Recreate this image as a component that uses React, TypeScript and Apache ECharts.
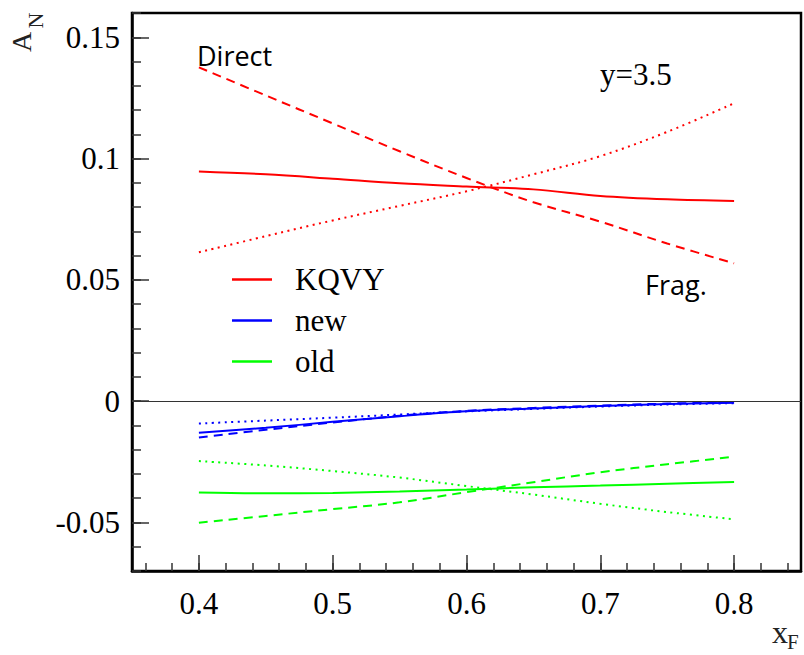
import React, { useEffect, useRef } from "react";
import * as echarts from "echarts";

const X_F = [0.4, 0.45, 0.5, 0.55, 0.6, 0.65, 0.7, 0.75, 0.8];

const KQVY_TOTAL = [0.0947, 0.0935, 0.0917, 0.0898, 0.0885, 0.0873, 0.0846, 0.0832, 0.0825];
const KQVY_DIRECT = [0.1376, 0.126, 0.1145, 0.103, 0.092, 0.082, 0.074, 0.065, 0.0568];
const KQVY_FRAG = [0.0614, 0.068, 0.0745, 0.0805, 0.0865, 0.0935, 0.101, 0.111, 0.1228];

const NEW_TOTAL = [-0.013, -0.011, -0.0085, -0.0062, -0.0042, -0.003, -0.002, -0.0012, -0.0006];
const NEW_DIRECT = [-0.015, -0.0118, -0.0088, -0.006, -0.004, -0.0028, -0.0018, -0.001, -0.0004];
const NEW_FRAG = [-0.0092, -0.008, -0.0068, -0.0055, -0.0042, -0.0032, -0.0022, -0.0014, -0.0008];

const OLD_TOTAL = [-0.0376, -0.038, -0.0378, -0.0372, -0.0364, -0.0355, -0.0348, -0.034, -0.0333];
const OLD_DIRECT = [-0.0501, -0.0473, -0.0445, -0.0417, -0.0375, -0.0334, -0.0293, -0.026, -0.0229];
const OLD_FRAG = [-0.0247, -0.0265, -0.0288, -0.0315, -0.035, -0.0385, -0.0423, -0.0457, -0.0487];

const X_MAJOR = [0.4, 0.5, 0.6, 0.7, 0.8];
const X_MINOR = [0.36, 0.38, 0.4, 0.42, 0.44, 0.46, 0.48, 0.5, 0.52, 0.54, 0.56, 0.58, 0.6, 0.62, 0.64, 0.66, 0.68, 0.7, 0.72, 0.74, 0.76, 0.78, 0.8, 0.82, 0.84];
const Y_MAJOR = [-0.05, 0, 0.05, 0.1, 0.15];
const Y_MINOR = [-0.07, -0.06, -0.05, -0.04, -0.03, -0.02, -0.01, 0, 0.01, 0.02, 0.03, 0.04, 0.05, 0.06, 0.07, 0.08, 0.09, 0.1, 0.11, 0.12, 0.13, 0.14, 0.15, 0.16];

const LEGEND_NAMES = ["KQVY", "new", "old"];

const SERIF = "Liberation Serif";
const SANS = "Open Sans";

function pts(arr: number[]) {
  return X_F.map((x, i) => [x, arr[i]]);
}

function line(name: string, data: number[], color: string, type: any) {
  return {
    name,
    type: "line",
    data: pts(data),
    smooth: 0.35,
    showSymbol: false,
    symbol: "none",
    color,
    lineStyle: { color, width: 2, type },
    silent: true,
    z: 3,
  };
}

function txt(text: string, x: number, y: number, size: number, family: string, align: string, rotation = 0, fill = "#000") {
  return {
    type: "text",
    x,
    y,
    rotation,
    style: {
      text,
      fontSize: size,
      fontFamily: family,
      fill,
      align,
      verticalAlign: "middle",
      textAlign: align,
      textVerticalAlign: "middle",
    },
  };
}

export default function App() {
  const ref = useRef<HTMLDivElement>(null);
  useEffect(() => {
    const chart = echarts.init(ref.current!, null, { renderer: "svg" });
    const DASH = [9, 6];
    const DOT = [2, 4.5];
    const tickStyle = { color: "#333", width: 1.5 };
    const option: any = {
      animation: false,
      backgroundColor: "#fff",
      textStyle: { fontFamily: SERIF },
      grid: {
        left: 132,
        top: 13,
        right: 3,
        bottom: 84,
        show: true,
        borderColor: "#000",
        borderWidth: 2.5,
        backgroundColor: "transparent",
      },
      xAxis: [
        {
          type: "value",
          min: 0.35,
          max: 0.85,
          position: "bottom",
          axisLine: { show: true, onZero: false, lineStyle: { color: "#000", width: 2.5 } },
          axisTick: { show: true, inside: true, length: 16, customValues: X_MAJOR, lineStyle: tickStyle },
          axisLabel: { customValues: X_MAJOR, margin: 17, fontFamily: SERIF, fontSize: 31, color: "#000" },
          splitLine: { show: false },
        },
        {
          type: "value",
          min: 0.35,
          max: 0.85,
          position: "bottom",
          axisLine: { show: false, onZero: false },
          axisTick: { show: true, inside: true, length: 8, customValues: X_MINOR, lineStyle: tickStyle },
          axisLabel: { show: false },
          splitLine: { show: false },
        },
      ],
      yAxis: [
        {
          type: "value",
          min: -0.07,
          max: 0.16,
          position: "left",
          axisLine: { show: true, onZero: false, lineStyle: { color: "#000", width: 2.5 } },
          axisTick: { show: true, inside: true, length: 17, customValues: Y_MAJOR, lineStyle: tickStyle },
          axisLabel: { customValues: Y_MAJOR, margin: 12, fontFamily: SERIF, fontSize: 31, color: "#000" },
          splitLine: { show: false },
        },
        {
          type: "value",
          min: -0.07,
          max: 0.16,
          position: "left",
          axisLine: { show: false, onZero: false },
          axisTick: { show: true, inside: true, length: 9, customValues: Y_MINOR, lineStyle: tickStyle },
          axisLabel: { show: false },
          splitLine: { show: false },
        },
      ],
      legend: {
        data: LEGEND_NAMES,
        orient: "vertical",
        left: 227,
        top: 259,
        itemWidth: 40,
        itemHeight: 2.5,
        itemGap: 10,
        icon: "rect",
        selectedMode: false,
        textStyle: { fontFamily: SERIF, fontSize: 31, color: "#000", lineHeight: 31, padding: [0, 0, 0, 18] },
      },
      series: [
        {
          ...line("KQVY", KQVY_TOTAL, "#ff0000", "solid"),
          markLine: {
            silent: true,
            symbol: "none",
            label: { show: false },
            lineStyle: { color: "#333", width: 1, type: "solid" },
            data: [{ yAxis: 0 }],
          },
        },
        line("KQVY direct", KQVY_DIRECT, "#ff0000", DASH),
        line("KQVY frag", KQVY_FRAG, "#ff0000", DOT),
        line("new", NEW_TOTAL, "#0000ff", "solid"),
        line("new direct", NEW_DIRECT, "#0000ff", DASH),
        line("new frag", NEW_FRAG, "#0000ff", DOT),
        line("old", OLD_TOTAL, "#00ff00", "solid"),
        line("old direct", OLD_DIRECT, "#00ff00", DASH),
        line("old frag", OLD_FRAG, "#00ff00", DOT),
      ],
      graphic: [
        txt("A", 21, 42, 28, SERIF, "center", Math.PI / 2, "#222"),
        txt("N", 35, 20.5, 22, SERIF, "center", Math.PI / 2, "#222"),
        txt("x", 780, 632, 32, SERIF, "center", 0, "#222"),
        txt("F", 787, 642, 21, SERIF, "left", 0, "#222"),
        txt("Direct", 197, 55, 27, SANS, "left"),
        txt("Frag.", 645, 284.5, 27, SANS, "left"),
        txt("y=3.5", 600, 74.5, 31, SERIF, "left"),
      ],
    };
    chart.setOption(option);
    return () => chart.dispose();
  }, []);
  return (
    <div
      ref={ref}
      style={{ position: "fixed", left: 0, top: 0, width: 804, height: 655, background: "#fff" }}
    />
  );
}
